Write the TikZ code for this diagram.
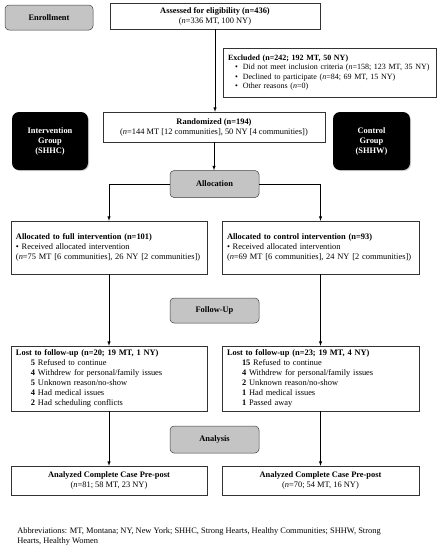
\documentclass[tikz,border=0pt]{standalone}
\usepackage{fontspec}
\setmainfont{Liberation Serif}
\usepackage{tikz}
\usetikzlibrary{shapes,arrows,positioning,calc,shadows}
\definecolor{stagegray}{RGB}{196,196,196}

\tikzset{
  stagebox/.style={draw=black!75, fill=stagegray, rounded corners=4pt,
    minimum width=89pt, minimum height=26pt, font=\bfseries},
  groupbox/.style={fill=black, text=white, rounded corners=7pt, align=center,
    minimum width=76pt, minimum height=58pt, font=\bfseries,
    drop shadow={opacity=0.35, shadow xshift=1pt, shadow yshift=-1pt}},
  centrebox/.style={draw=black!80, align=center, inner sep=2pt},
  listbox/.style={draw=black!80, align=left, text width=186pt, inner xsep=5pt},
  flow/.style={-latex, line width=0.5pt}
}

\begin{document}
\fontsize{8.4}{10}\selectfont
\begin{tikzpicture}[x=1pt, y=-1pt, line width=0.5pt]
    \useasboundingbox (0,0) rectangle (441,550);

    % enrollment
    \node[stagebox, minimum width=88pt, minimum height=25pt] (enroll) at (49,17.5) {Enrollment};
    \node[centrebox, minimum width=210pt, minimum height=26pt] (assess) at (215,16)
        {\textbf{Assessed for eligibility (n=436)}\\(\textit{n}=336 MT, 100 NY)};
    \node[draw=black!80, align=left, text width=203pt, inner xsep=5pt,
          minimum height=49pt, font=\fontsize{8}{9.6}\selectfont] (excl) at (329.5,72.5) {%
        \textbf{Excluded (n=242; 192 MT, 50 NY)}\\
        \hspace*{7pt}\textbullet\hspace{5pt}\mbox{Did not meet inclusion criteria (\textit{n}=158; 123 MT, 35 NY)}\\
        \hspace*{7pt}\textbullet\hspace{5pt}Declined to participate (\textit{n}=84; 69 MT, 15 NY)\\
        \hspace*{7pt}\textbullet\hspace{5pt}Other reasons (\textit{n}=0)};

    % randomization and groups
    \node[centrebox, minimum width=222pt, minimum height=30pt] (rand) at (214,127)
        {\textbf{Randomized (n=194)}\\(\textit{n}=144 MT [12 communities], 50 NY [4 communities])};
    \node[groupbox] (interv) at (50,141) {Intervention\\Group\\(SHHC)};
    \node[groupbox, minimum width=77pt] (ctrl) at (371.5,141) {Control\\Group\\(SHHW)};

    % allocation
    \node[stagebox, minimum height=27pt] (alloc) at (214.5,184) {Allocation};
    \node[listbox, minimum height=53pt] (allocL) at (109,247.5) {%
        \textbf{Allocated to full intervention (n=101)}\\
        \textbullet\ Received allocated intervention\\
        \mbox{(\textit{n}=75 MT [6 communities], 26 NY [2 communities])}};
    \node[listbox, text width=187pt, minimum height=53pt] (allocR) at (320.5,247.5) {%
        \textbf{Allocated to control intervention (n=93)}\\
        \textbullet\ Received allocated intervention\\
        \mbox{(\textit{n}=69 MT [6 communities], 24 NY [2 communities])}};

    % follow-up
    \node[stagebox, minimum height=25pt] (follow) at (214.5,310.5) {Follow-Up};
    \node[listbox, minimum height=65pt] (lostL) at (109,378.5) {%
        \textbf{Lost to follow-up (n=20; 19 MT, 1 NY)}\\
        \hspace*{15pt}\textbf{5} Refused to continue\\
        \hspace*{15pt}\textbf{4} Withdrew for personal/family issues\\
        \hspace*{15pt}\textbf{5} Unknown reason/no-show\\
        \hspace*{15pt}\textbf{4} Had medical issues\\
        \hspace*{15pt}\textbf{2} Had scheduling conflicts};
    \node[listbox, text width=187pt, minimum height=65pt] (lostR) at (320.5,378.5) {%
        \textbf{Lost to follow-up (n=23; 19 MT, 4 NY)}\\
        \hspace*{15pt}\textbf{15} Refused to continue\\
        \hspace*{15pt}\textbf{4} Withdrew for personal/family issues\\
        \hspace*{15pt}\textbf{2} Unknown reason/no-show\\
        \hspace*{15pt}\textbf{1} Had medical issues\\
        \hspace*{15pt}\textbf{1} Passed away};

    % analysis
    \node[stagebox, minimum height=27pt] (analysis) at (214.5,439.5) {Analysis};
    \node[centrebox, minimum width=196pt, minimum height=29pt] (anaL) at (109,480.5)
        {\textbf{Analyzed Complete Case Pre-post}\\(\textit{n}=81; 58 MT, 23 NY)};
    \node[centrebox, minimum width=197pt, minimum height=29pt] (anaR) at (320.5,480.5)
        {\textbf{Analyzed Complete Case Pre-post}\\(\textit{n}=70; 54 MT, 16 NY)};

    \node[anchor=north west, align=left, inner sep=0pt] (abbrev) at (17,527)
        {Abbreviations: MT, Montana; NY, New York; SHHC, Strong Hearts, Healthy Communities; SHHW, Strong\\
         Hearts, Healthy Women};

    % connectors
    \draw[flow] (assess.south) -- (assess.south |- rand.north);
    \draw[flow] (rand.south) -- (rand.south |- alloc.north);
    \draw[flow] (alloc.west) -| (allocL.north);
    \draw[flow] (alloc.east) -| (allocR.north);
    \draw[flow] (allocL.south) -- (lostL.north);
    \draw[flow] (allocR.south) -- (lostR.north);
    \draw[flow] (lostL.south) -- (anaL.north);
    \draw[flow] (lostR.south) -- (anaR.north);
\end{tikzpicture}
\end{document}
